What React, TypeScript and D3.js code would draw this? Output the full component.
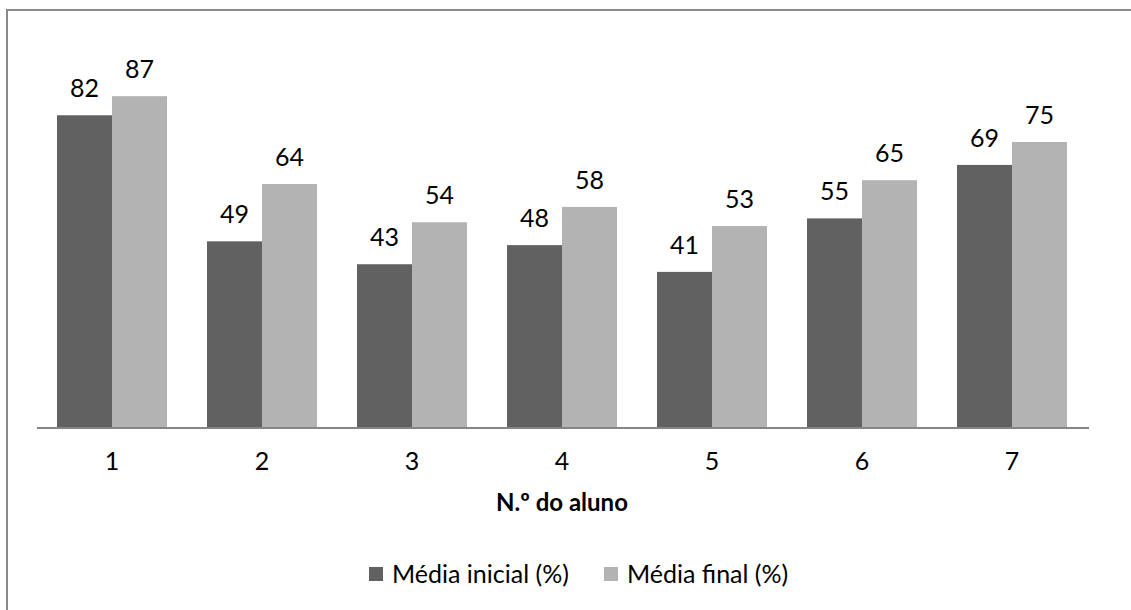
import React from "react";
import * as d3 from "d3";

const categories = ["1", "2", "3", "4", "5", "6", "7"];
const seriesNames = ["Média inicial (%)", "Média final (%)"];
const mediaInicial = [82, 49, 43, 48, 41, 55, 69];
const mediaFinal = [87, 64, 54, 58, 53, 65, 75];
const colors = ["#616161", "#b3b3b3"];
const axisTitle = "N.º do aluno";

const W = 1131;
const H = 610;
const FONT = "Lato, 'Open Sans', sans-serif";

export default function App() {
  const slot = d3.scaleBand<string>().domain(categories).range([37, 1087]);
  const x1 = d3.scaleBand<number>().domain([0, 1]).range([0, 110]);
  const y = d3.scaleLinear().domain([0, 100]).range([428.5, 46.5]);
  const series = [mediaInicial, mediaFinal];

  return (
    <svg width={W} height={H} style={{ position: "absolute", left: 0, top: 0, background: "#fff" }} fontFamily={FONT}>
      <rect x={7} y={10} width={W + 20} height={H + 20} fill="#fff" stroke="#8a8a8a" strokeWidth={2} />
      {categories.map((c, i) => {
        const gx = (slot(c) as number) + slot.bandwidth() / 2 - 55;
        return (
          <g key={c} transform={`translate(${gx},0)`}>
            {series.map((s, j) => (
              <g key={j}>
                <rect x={x1(j)} y={y(s[i])} width={x1.bandwidth()} height={y(0) - y(s[i])} fill={colors[j]} />
                <text x={(x1(j) as number) + x1.bandwidth() / 2} y={y(s[i]) - 18} textAnchor="middle" fontSize={25} fill="#000">
                  {s[i]}
                </text>
              </g>
            ))}
          </g>
        );
      })}
      <line x1={37} x2={1089} y1={428} y2={428} stroke="#868686" strokeWidth={2} />
      {categories.map((c) => (
        <text key={c} x={(slot(c) as number) + slot.bandwidth() / 2} y={470} textAnchor="middle" fontSize={25} fill="#000">
          {c}
        </text>
      ))}
      <text x={562} y={511} textAnchor="middle" fontSize={24} fontWeight="bold" fill="#000">
        {axisTitle}
      </text>
      <g>
        <rect x={369} y={567} width={14} height={14} fill={colors[0]} />
        <text x={392} y={583} fontSize={25} fill="#000">{seriesNames[0]}</text>
        <rect x={604} y={567} width={14} height={14} fill={colors[1]} />
        <text x={627} y={583} fontSize={25} fill="#000">{seriesNames[1]}</text>
      </g>
    </svg>
  );
}
